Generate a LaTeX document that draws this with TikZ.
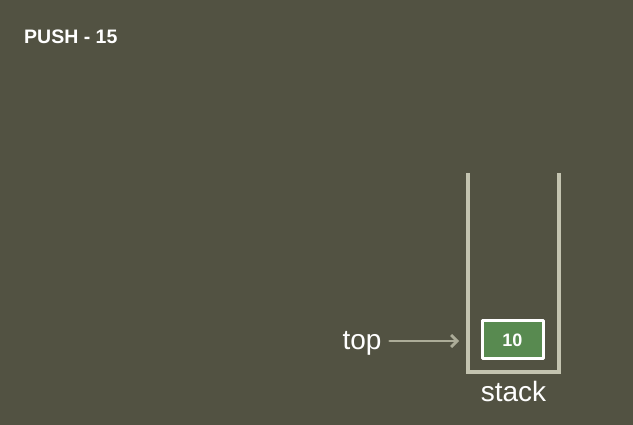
\documentclass[tikz,border=0pt]{standalone}
\usepackage{fontspec}
\setmainfont{Liberation Sans}
\usetikzlibrary{arrows.meta}
\definecolor{slidebg}{RGB}{82,82,66}
\definecolor{wallgray}{RGB}{196,196,176}
\definecolor{arrowgray}{RGB}{172,172,152}
\definecolor{itemgreen}{RGB}{88,138,80}
\tikzset{
  wall/.style={wallgray,line width=3.2pt,line cap=butt,line join=miter},
  item/.style={draw=white,fill=itemgreen,line width=3pt,minimum width=61pt,minimum height=38pt,
    text=white,font=\bfseries\fontsize{18}{20}\selectfont,inner sep=0pt},
  lbl/.style={text=white,font=\fontsize{28}{30}\selectfont,inner sep=0pt}
}
\begin{document}
\begin{tikzpicture}[x=1pt,y=-1pt,line cap=round,line join=round]
  \fill[slidebg] (0,0) rectangle (633,425);
  \useasboundingbox (0,0) rectangle (633,425);
  \node[anchor=west,text=white,font=\bfseries\fontsize{19.5}{21}\selectfont,inner sep=0pt] (title) at (24,37) {PUSH - 15};
  % stack walls
  \draw[wall] (468,173)--(468,372)--(559,372)--(559,173);
  \node[item] (ten) at (512.5,340) {10};
  \node[lbl] (top) at (362,343) {top};
  \coordinate (topend) at (459,341);
  \draw[arrowgray,line width=2.8pt,-{Straight Barb[length=6pt,width=12pt]}] (top.east) ++(8,-2) coordinate (topstart) (topstart)--(topend);
  \node[lbl] (stack) at (513.5,391) {stack};
\end{tikzpicture}
\end{document}
